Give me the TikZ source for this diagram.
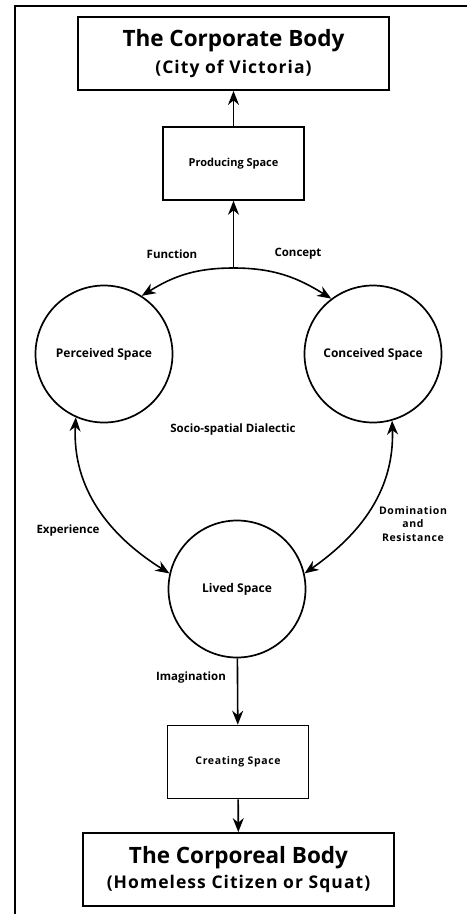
\documentclass[tikz,border=0pt]{standalone}
\usepackage{fontspec}
\setmainfont{Open Sans}
\newfontfamily\widesans[LetterSpace=6]{Open Sans}
\usetikzlibrary{arrows.meta}

\tikzset{
	bodybox/.style={draw, line width=1.8pt, minimum width=311pt, minimum height=73pt, align=center, inner sep=0pt},
	spacebox/.style={draw, line width=1.6pt, minimum width=141pt, minimum height=73pt, font=\bfseries\fontsize{11}{13}\selectfont},
	spacecircle/.style={draw, circle, line width=1.7pt, minimum size=137pt, inner sep=0pt, font=\bfseries\fontsize{12}{14}\selectfont},
	lbl/.style={font=\bfseries\fontsize{11.5}{13}\selectfont, align=center},
	flow/.style={line width=1.6pt, >={Stealth[length=14pt, width=11pt, inset=4.5pt]}}
}

\begin{document}
\begin{tikzpicture}[x=1pt, y=-1pt]
	\useasboundingbox (0,0) rectangle (467,914);
	
	% frame
	\draw[line width=2.5pt] (15,914) -- (15,6) -- (467,6);
	
	\node[bodybox] (corporate) at (233.5,53.5) {{\bfseries\fontsize{22.5}{26}\selectfont The Corporate Body}\\[7pt]{\widesans\bfseries\fontsize{17.5}{20}\selectfont (City of Victoria)}};
	
	\node[spacebox] (producing) at (233.5,163.5) {Producing Space};
	
	\coordinate (split) at (233.5,268);
	
	\node[spacecircle] (perceived) at (104,354) {Perceived Space};
	
	\node[spacecircle] (conceived) at (373,354) {Conceived Space};
	
	\node[spacecircle] (lived) at (237,589) {Lived Space};
	
	\node[spacebox, font=\widesans\bfseries\fontsize{10.5}{13}\selectfont] (creating) at (238,762) {Creating Space};
	
	\node[bodybox] (corporeal) at (238.5,869.5) {{\bfseries\fontsize{22.5}{26}\selectfont The Corporeal Body}\\[5pt]{\widesans\bfseries\fontsize{17.5}{20}\selectfont (Homeless Citizen or Squat)}};
	
	% labels
	\node[lbl] (function) at (172,254) {Function};
	\node[lbl] (concept) at (298,254) {Concept};
	\node[lbl] (dialectic) at (233,430) {Socio-spatial Dialectic};
	\node[lbl] (experience) at (68,531) {Experience};
	\node[lbl, font=\widesans\bfseries\fontsize{10.5}{13.5}\selectfont] (domination) at (413,524) {Domination\\and\\Resistance};
	\node[lbl] (imagination) at (191,678) {Imagination};
	
	% arrows
	\draw[flow, ->] (producing) -- (corporate);
	\draw[flow, ->] (split) -- (producing);
	\draw[flow, ->] (split) to[out=180, in=32] (perceived.57);
	\draw[flow, ->] (split) to[out=0, in=148] (conceived.127);
	\draw[flow, <->] (perceived.-114) to[out=-93, in=148] (lived.167);
	\draw[flow, <->] (conceived.-74) to[out=-88, in=35] (lived.13);
	\draw[flow, ->] (lived) -- (creating);
	\draw[flow, ->] (creating) -- (corporeal);
	
\end{tikzpicture}
\end{document}
